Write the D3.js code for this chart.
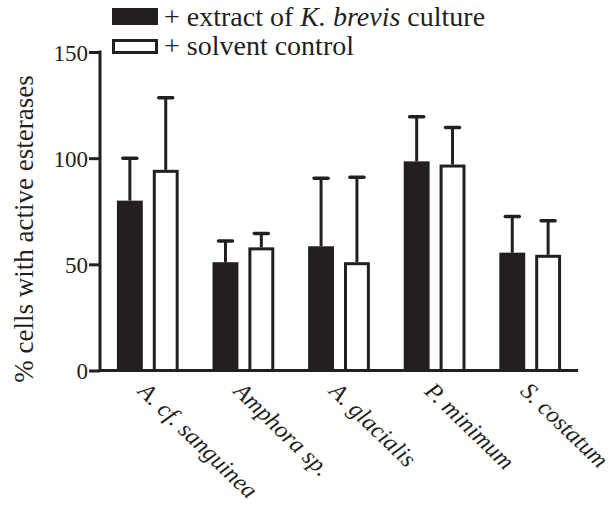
<!DOCTYPE html>
<html>
<head>
<meta charset="utf-8">
<script src="https://cdn.jsdelivr.net/npm/d3@7"></script>
<style>
  html, body { margin: 0; padding: 0; background: #fff; }
  svg { display: block; }
</style>
</head>
<body>
<svg id="chart" width="614" height="516"></svg>
<script>
// ---- data ----
const categories = ["A. cf. sanguinea", "Amphora sp.", "A. glacialis", "P. minimum", "S. costatum"];
const seriesNames = ["extract", "control"];
const extractMeans = [80, 51, 58.5, 98.5, 55.5];
const extractErr   = [20, 10, 32, 21, 17];
const controlMeans = [94.5, 58, 51, 97, 54.5];
const controlErr   = [34, 6.5, 40, 17.5, 16];
const yTicks = [0, 50, 100, 150];
const yLabel = "% cells with active esterases";

const ink = "#231f20";
const FONT = "'Liberation Serif', Tinos, 'Times New Roman', 'DejaVu Serif', serif";
const svg = d3.select("#chart");

const mLeft = 100, mRight = 578, mTop = 52, mBottom = 370.5;

const x0 = d3.scaleBand().domain(categories).range([mLeft, mRight]).padding(0);
const x1 = d3.scaleBand().domain(seriesNames).range([0, x0.bandwidth()])
  .paddingInner(0.278).paddingOuter(0.472);
const y = d3.scaleLinear().domain([0, 150]).range([mBottom, mTop]);

const rows = categories.map((c, i) => ({
  cat: c,
  vals: [
    { s: "extract", v: extractMeans[i], e: extractErr[i] },
    { s: "control", v: controlMeans[i], e: controlErr[i] }
  ]
}));

const sw = 3;
const groups = svg.append("g").selectAll("g").data(rows).join("g")
  .attr("transform", d => `translate(${x0(d.cat)},0)`);

groups.selectAll("line.err").data(d => d.vals).join("line")
  .attr("class", "err")
  .attr("x1", d => x1(d.s) + x1.bandwidth() / 2)
  .attr("x2", d => x1(d.s) + x1.bandwidth() / 2)
  .attr("y1", d => y(d.v))
  .attr("y2", d => y(d.v + d.e))
  .attr("stroke", ink).attr("stroke-width", 3);
groups.selectAll("line.cap").data(d => d.vals).join("line")
  .attr("class", "cap")
  .attr("x1", d => x1(d.s) + x1.bandwidth() / 2 - 7)
  .attr("x2", d => x1(d.s) + x1.bandwidth() / 2 + 7)
  .attr("y1", d => y(d.v + d.e))
  .attr("y2", d => y(d.v + d.e))
  .attr("stroke", ink).attr("stroke-width", 3.5).attr("stroke-linecap", "round");

groups.selectAll("rect").data(d => d.vals).join("rect")
  .attr("x", d => x1(d.s) + sw / 2)
  .attr("width", x1.bandwidth() - sw)
  .attr("y", d => y(d.v) + sw / 2)
  .attr("height", d => y(0) - y(d.v) - sw / 2)
  .attr("fill", d => d.s === "extract" ? ink : "#fff")
  .attr("stroke", ink).attr("stroke-width", sw);

// y axis
const yAxis = svg.append("g").attr("transform", `translate(${mLeft},0)`)
  .call(d3.axisLeft(y).tickValues(yTicks).tickSize(11).tickSizeOuter(0).tickPadding(1));
yAxis.attr("font-family", FONT).attr("font-size", 23);
yAxis.select(".domain").attr("stroke", ink).attr("stroke-width", 3)
  .attr("d", `M0,${y(0) + 1.5}V${y(150) - 1.5}`);
yAxis.selectAll(".tick line").attr("stroke", ink).attr("stroke-width", 3);
yAxis.selectAll(".tick text").attr("fill", ink)
  .attr("font-family", FONT).attr("font-size", 23)
  .attr("dy", "0.36em");

// x axis
const xAxis = svg.append("g").attr("transform", `translate(0,${mBottom})`)
  .call(d3.axisBottom(x0).tickSize(0).tickSizeOuter(0).tickPadding(0));
xAxis.attr("font-family", FONT).attr("font-size", 24);
xAxis.select(".domain").attr("stroke", ink).attr("stroke-width", 3)
  .attr("d", `M${mLeft - 1.5},0H${mRight}`);
xAxis.selectAll(".tick text")
  .attr("fill", ink)
  .attr("font-family", FONT).attr("font-size", 24)
  .attr("font-style", "italic")
  .attr("text-anchor", "start")
  .attr("y", 0).attr("dy", 0)
  .attr("transform", "translate(-11,22) rotate(44)");

// y label
svg.append("text")
  .attr("transform", `translate(33,229) rotate(-90)`)
  .attr("text-anchor", "middle")
  .attr("font-family", FONT).attr("font-size", 27).attr("fill", ink)
  .text(yLabel);

// legend
const lg = svg.append("g").attr("font-family", FONT).attr("font-size", 28).attr("fill", ink);
lg.append("rect").attr("x", 113).attr("y", 9).attr("width", 44).attr("height", 15)
  .attr("fill", ink).attr("stroke", ink).attr("stroke-width", 2);
lg.append("rect").attr("x", 113.5).attr("y", 40.5).attr("width", 43).attr("height", 12)
  .attr("fill", "#fff").attr("stroke", ink).attr("stroke-width", 3);
const t1 = lg.append("text").attr("x", 164).attr("y", 26);
t1.append("tspan").text("+ extract of ");
t1.append("tspan").attr("font-style", "italic").text("K. brevis");
t1.append("tspan").text(" culture");
lg.append("text").attr("x", 164).attr("y", 55).text("+ solvent control");
</script>
</body>
</html>
